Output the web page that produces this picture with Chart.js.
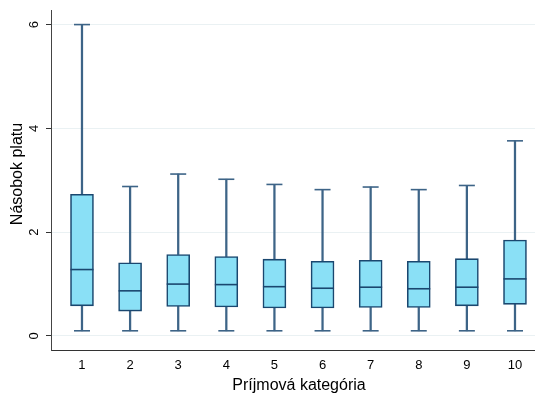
<!DOCTYPE html>
<html>
<head>
<meta charset="utf-8">
<script src="https://cdn.jsdelivr.net/npm/chart.js@4"></script>
<style>
html,body{margin:0;padding:0;background:#fff;overflow:hidden;}
#wrap{width:535px;height:396px;position:relative;overflow:hidden;}
canvas{display:block;}
</style>
</head>
<body>
<div id="wrap"><canvas id="c"></canvas></div>
<script>
const categories = [1, 2, 3, 4, 5, 6, 7, 8, 9, 10];
const lowerWhisker = [0.10, 0.10, 0.10, 0.10, 0.10, 0.10, 0.10, 0.10, 0.10, 0.10];
const q1 = [0.58, 0.48, 0.57, 0.56, 0.54, 0.54, 0.55, 0.55, 0.58, 0.61];
const median = [1.28, 0.87, 1.00, 0.99, 0.95, 0.92, 0.94, 0.91, 0.94, 1.10];
const q3 = [2.73, 1.41, 1.57, 1.53, 1.48, 1.44, 1.46, 1.44, 1.49, 1.85];
const upperWhisker = [6.00, 2.88, 3.12, 3.02, 2.92, 2.82, 2.87, 2.82, 2.90, 3.76];
const yTicks = [0, 2, 4, 6];
const xTitle = 'Príjmová kategória';
const yTitle = 'Násobok platu';

const FONT = "'Liberation Sans', Arial, Helvetica, sans-serif";
const boxFill = '#8ae0f6';
const boxLine = '#1a476f';
const whiskerColor = '#3d6487';

const pts = (arr) => categories.map((c, i) => ({ x: c, y: arr[i] }));
const ranges = (a, b) => categories.map((c, i) => ({ x: c, y: [a[i], b[i]] }));

const labelsPlugin = {
  id: 'axisLabels',
  afterDraw(chart) {
    const ctx = chart.ctx;
    const ys = chart.scales.y;
    ctx.save();
    ctx.fillStyle = '#000';
    ctx.font = '13px ' + FONT;
    ctx.textAlign = 'center';
    ctx.textBaseline = 'middle';
    yTicks.forEach(v => {
      const py = ys.getPixelForValue(v);
      ctx.save();
      ctx.translate(34.5, py);
      ctx.rotate(-Math.PI / 2);
      ctx.fillText(String(v), 0, 0);
      ctx.restore();
    });
    ctx.font = '16px ' + FONT;
    ctx.fillText(xTitle, 299, 386);
    ctx.translate(17.5, 174);
    ctx.rotate(-Math.PI / 2);
    ctx.fillText(yTitle, 0, 0);
    ctx.restore();
  }
};

new Chart(document.getElementById('c'), {
  type: 'bar',
  data: {
    datasets: [
      {
        type: 'bar', label: 'lowW', data: ranges(lowerWhisker, q1),
        backgroundColor: whiskerColor, borderWidth: 0, barThickness: 1.6,
        grouped: false, order: 3
      },
      {
        type: 'bar', label: 'upW', data: ranges(q3, upperWhisker),
        backgroundColor: whiskerColor, borderWidth: 0, barThickness: 1.6,
        grouped: false, order: 3
      },
      {
        type: 'scatter', label: 'capLow', data: pts(lowerWhisker),
        pointStyle: 'line', pointRadius: 8, pointHoverRadius: 8,
        borderColor: whiskerColor, borderWidth: 1.6, showLine: false, order: 2
      },
      {
        type: 'scatter', label: 'capUp', data: pts(upperWhisker),
        pointStyle: 'line', pointRadius: 8, pointHoverRadius: 8,
        borderColor: whiskerColor, borderWidth: 1.6, showLine: false, order: 2
      },
      {
        type: 'bar', label: 'box', data: ranges(q1, q3),
        backgroundColor: boxFill, borderColor: boxLine, borderWidth: 1.6,
        borderSkipped: false, barThickness: 23, grouped: false, order: 1
      },
      {
        type: 'scatter', label: 'median', data: pts(median),
        pointStyle: 'line', pointRadius: 11.5, pointHoverRadius: 11.5,
        borderColor: boxLine, borderWidth: 1.6, showLine: false, order: 0
      }
    ]
  },
  options: {
    responsive: true,
    maintainAspectRatio: false,
    animation: false,
    devicePixelRatio: 1,
    layout: { autoPadding: false, padding: { top: 10, right: 0, left: 0, bottom: 0 } },
    plugins: { legend: { display: false }, tooltip: { enabled: false } },
    scales: {
      x: {
        type: 'linear',
        offset: false,
        min: 0.356, max: 10.416,
        afterBuildTicks: (s) => { s.ticks = categories.map(v => ({ value: v })); },
        afterFit: (s) => { s.height = 46; s.paddingLeft = 0; s.paddingRight = 0; },
        grid: { display: true, offset: false, drawOnChartArea: false, drawTicks: false },
        border: { display: true, color: '#333', width: 1 },
        ticks: { color: '#000', font: { family: FONT, size: 13 }, padding: 8, maxRotation: 0, autoSkip: false },
        title: { display: false }
      },
      y: {
        type: 'linear',
        min: -0.27, max: 6.281,
        afterBuildTicks: (s) => { s.ticks = yTicks.map(v => ({ value: v })); },
        afterFit: (s) => { s.width = 51; s.paddingTop = 0; s.paddingBottom = 0; },
        grid: { color: '#eaf1f3', lineWidth: 1, tickLength: 5, tickColor: '#333', drawTicks: true },
        border: { display: true, color: '#444', width: 1 },
        ticks: { color: 'rgba(0,0,0,0)', font: { family: FONT, size: 13 }, padding: 0 }
      }
    }
  },
  plugins: [labelsPlugin]
});
</script>
</body>
</html>
